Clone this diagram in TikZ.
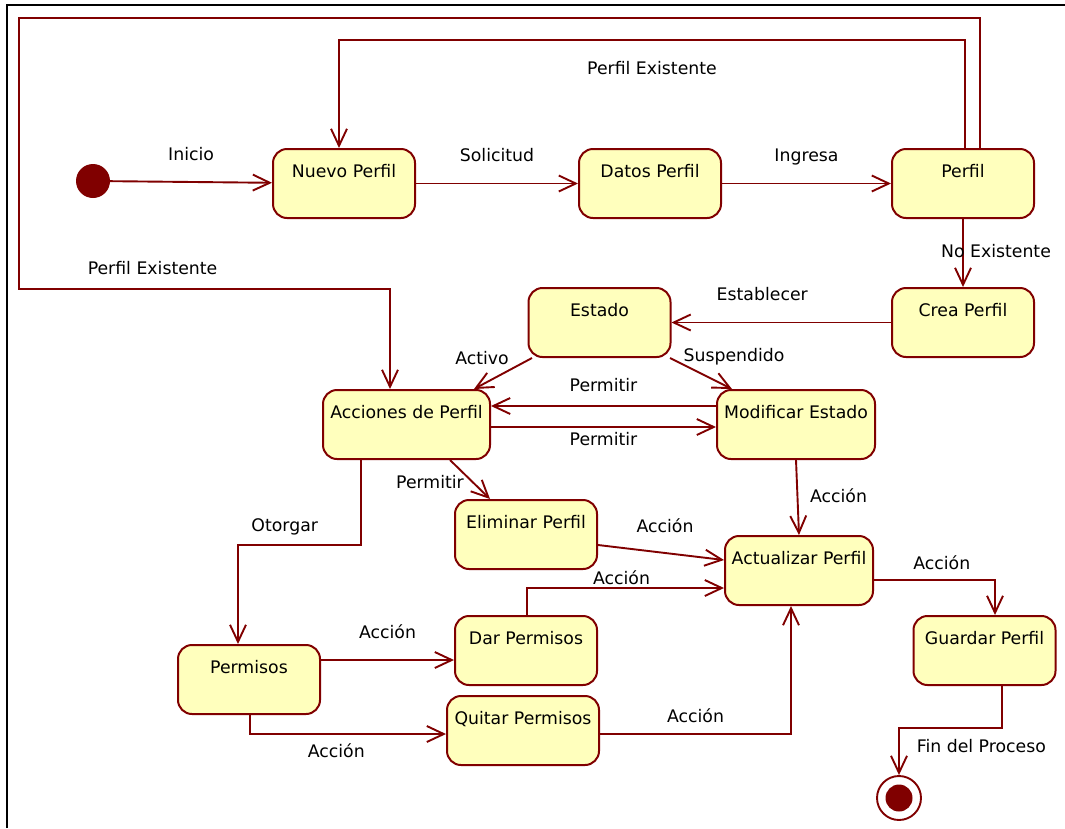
\documentclass[tikz,border=0pt]{standalone}
\usepackage{fontspec}
\setmainfont{DejaVu Sans}
\definecolor{umlred}{RGB}{128, 0, 0}
\definecolor{umlfill}{RGB}{255, 255, 189}
\usetikzlibrary{arrows.meta, positioning}
\tikzset{
    caja/.style={draw=umlred, line width=2pt, fill=umlfill,
        rounded corners=14pt, minimum width=142pt, minimum height=69pt,
        inner xsep=3pt, inner ysep=8pt, text height=20pt, text depth=33pt,
        font=\fontsize{17.3}{20}\selectfont},
    trans/.style={draw=umlred, line width=1.9pt,
        -{Straight Barb[length=17pt, width=16pt]}},
    etiq/.style={inner sep=0pt, text height=13pt, text depth=4pt,
        font=\fontsize{17.3}{20}\selectfont}
}

\begin{document}
\begin{tikzpicture}[x=1pt, y=-1pt]
    \useasboundingbox (0,0) rectangle (1065,828);
    \draw[line width=2pt] (7,828) -- (7,5) -- (1065,5);

    \node[circle, fill=umlred, minimum size=34pt, inner sep=0pt] (ini) at (93,181) {};
    \node[caja] (nuevo) at (344,183.5) {Nuevo Perfil};
    \node[caja] (datos) at (650,183.5) {Datos Perfil};
    \node[caja] (perfil) at (963,183.5) {Perfil};
    \node[caja] (crea) at (963,322.5) {Crea Perfil};
    \node[caja] (estado) at (599.5,322.5) {Estado};
    \node[caja, minimum width=167pt] (acc) at (406.5,424.5) {Acciones de Perfil};
    \node[caja, minimum width=158pt] (modif) at (796,424.5) {Modificar Estado};
    \node[caja] (elim) at (526,534.5) {Eliminar Perfil};
    \node[caja, minimum width=148pt] (actu) at (799,570.5) {Actualizar Perfil};
    \node[caja] (guard) at (984.5,650.5) {Guardar Perfil};
    \node[caja] (perm) at (249,679.5) {Permisos};
    \node[caja] (dar) at (526,650.5) {Dar Permisos};
    \node[caja, minimum width=152pt] (quitar) at (523,730.5) {Quitar Permisos};
    \node[circle, draw=umlred, line width=1.9pt, fill=white, minimum size=44pt,
          inner sep=0pt, path picture={
            \fill[umlred] (path picture bounding box.center) circle (13.5pt);
          }] (fin) at (899,798) {};

    \draw[trans] (ini) -- node[etiq, above=16.5pt] {Inicio} (nuevo);
    \draw[trans] (nuevo) -- node[etiq, above=17.5pt] {Solicitud} (datos);
    \draw[trans] (datos) -- node[etiq, above=17.5pt] {Ingresa} (perfil);
    \draw[trans] ([xshift=2pt]perfil.north) -- ++(0,-108)
        -| node[etiq, pos=0.25, below=20.5pt] {Perfil Existente} ([xshift=-5pt]nuevo.north);
    \draw[trans] ([xshift=17pt]perfil.north) -- ++(0,-130) -| (19,289)
        -| node[etiq, pos=0.18, above=9.5pt] {Perfil Existente} ([xshift=-16.5pt]acc.north);
    \draw[trans] (perfil) -- node[etiq, xshift=33pt] {No Existente} (crea);
    \draw[trans] (crea) -- node[etiq, above=17pt, xshift=-19pt] {Establecer} (estado);
    \draw[trans] ([xshift=-67.5pt]estado.south) -- node[etiq, xshift=-21pt, yshift=14pt] {Activo}
        ([xshift=67.5pt]acc.north);
    \draw[trans] ([xshift=70.5pt]estado.south) -- node[etiq, xshift=33pt, yshift=17pt] {Suspendido}
        ([xshift=-64pt]modif.north);
    \draw[trans] ([yshift=18.5pt]modif.west) -- node[etiq, above=9.5pt] {Permitir}
        ([yshift=18.5pt]acc.east);
    \draw[trans] ([yshift=-2.5pt]acc.east) -- node[etiq, below=4.5pt] {Permitir}
        ([yshift=-2.5pt]modif.west);
    \draw[trans] ([xshift=43.5pt]acc.south) -- node[etiq, xshift=-40pt, yshift=-4pt] {Permitir}
        ([xshift=-36pt]elim.north);
    \draw[trans] ([xshift=-45.5pt]acc.south) -- ++(0,85)
        -| node[etiq, pos=0.31, above=8.5pt] {Otorgar} ([xshift=-11pt]perm.north);
    \draw[trans] (modif.south) -- node[etiq, xshift=41pt] {Acción} (actu.north);
    \draw[trans] ([yshift=-10.5pt]elim.east) -- node[etiq, xshift=4pt, yshift=25pt] {Acción}
        ([yshift=10.5pt]actu.west);
    \draw[trans] ([xshift=1pt]dar.north) |- node[etiq, pos=0.74, yshift=8pt] {Acción}
        ([yshift=-17.5pt]actu.west);
    \draw[trans] ([yshift=19.5pt]perm.east) -- node[etiq, above=16.5pt] {Acción}
        ([yshift=-9.5pt]dar.west);
    \draw[trans] ([xshift=1pt]perm.south) |- node[etiq, pos=0.72, below=9.5pt] {Acción}
        ([yshift=-3.5pt]quitar.west);
    \draw[trans] ([yshift=-3.5pt]quitar.east) -| node[etiq, pos=0.25, above=6.5pt] {Acción}
        ([xshift=-8pt]actu.south);
    \draw[trans] ([yshift=-9.5pt]actu.east) -| node[etiq, pos=0.28, above=5.5pt] {Acción}
        ([xshift=10.5pt]guard.north);
    \draw[trans] ([xshift=17.5pt]guard.south) -- ++(0,42)
        -| node[etiq, pos=0.1, below=10.5pt] {Fin del Proceso} (fin.north);
\end{tikzpicture}
\end{document}
